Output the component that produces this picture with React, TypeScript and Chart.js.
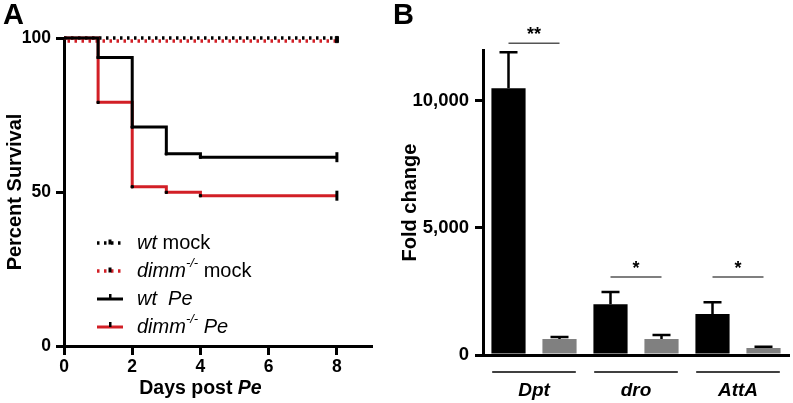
import React, { useEffect, useRef } from 'react';
import { Chart, registerables } from 'chart.js';
Chart.register(...registerables);

const FONT = "'Liberation Sans', Arial, Helvetica, sans-serif";
const RED = '#d21f26';
const GRAY = '#808080';

// ---- Panel A: survival ----
const days = [0, 1, 2, 3, 4, 8];
const wtMock = [100, 100, 100, 100, 100, 100];
const dimmMock = [99, 99, 99, 99, 99, 99];
const wtPe = [100, 93.7, 71.1, 62.4, 61.3, 61.3];
const dimmPe = [100, 79.1, 51.7, 49.9, 48.8, 48.8];
const dayTicks = [0, 2, 4, 6, 8];
const survivalTicks = [0, 50, 100];

// ---- Panel B: fold change ----
const genes = ['Dpt', 'dro', 'AttA'];
const wtFold = [10500, 2000, 1610];
const wtErr = [1410, 480, 470];
const dimmFold = [630, 630, 280];
const dimmErr = [80, 160, 40];
const foldTicks = [0, 5000, 10000];
const sigLevel = [12270, 3070, 3070];
const sigLabel = ['**', '*', '*'];

const lastIdx = days.length - 1;
const toXY = (ys: number[]) => days.map((d, i) => ({ x: d, y: ys[i] }));

const peMarkers = () => ({
  pointStyle: days.map((_, i) => (i === lastIdx ? 'line' : 'rect')),
  pointRadius: days.map((_, i) => (i === 0 ? 0 : i === lastIdx ? 5 : 1.6)),
  pointRotation: days.map((_, i) => (i === lastIdx ? 90 : 0)),
  pointBackgroundColor: '#000',
  pointBorderColor: '#000',
  pointBorderWidth: days.map((_, i) => (i === lastIdx ? 3 : 1)),
});
const mockMarkers = () => ({
  pointStyle: 'rect',
  pointRadius: days.map((_, i) => (i === lastIdx ? 2.2 : 0)),
  pointBackgroundColor: '#000',
  pointBorderColor: '#000',
  pointBorderWidth: 1,
});

type Part = [string, 'italic' | 'normal' | 'sup'];
const legendRows: { color: string; dashed: boolean; parts: Part[] }[] = [
  { color: '#000', dashed: true, parts: [['wt', 'italic'], [' mock', 'normal']] },
  { color: RED, dashed: true, parts: [['dimm', 'italic'], ['-/-', 'sup'], [' mock', 'normal']] },
  { color: '#000', dashed: false, parts: [['wt', 'italic'], ['  ', 'normal'], ['Pe', 'italic']] },
  { color: RED, dashed: false, parts: [['dimm', 'italic'], ['-/-', 'sup'], [' ', 'normal'], ['Pe', 'italic']] },
];

const survivalExtras = {
  id: 'survivalExtras',
  afterDraw(chart: any) {
    const ctx = chart.ctx;
    const ca = chart.chartArea;
    ctx.save();
    // legend
    legendRows.forEach((row, i) => {
      const y = ca.top + 205 + i * 28;
      const x1 = ca.left + 33, x2 = ca.left + 59;
      ctx.strokeStyle = row.color;
      ctx.lineWidth = row.dashed ? 3.5 : 3;
      ctx.setLineDash(row.dashed ? [2.5, 4.5] : []);
      ctx.beginPath(); ctx.moveTo(x1, y); ctx.lineTo(x2, y); ctx.stroke();
      ctx.setLineDash([]);
      ctx.fillStyle = '#000';
      if (row.dashed) ctx.fillRect((x1 + x2) / 2 - 1.5, y - 3.5, 3, 5);
      else ctx.fillRect((x1 + x2) / 2 - 1, y - 5, 2.5, 5);
      let tx = ca.left + 73;
      ctx.textBaseline = 'middle';
      ctx.textAlign = 'left';
      row.parts.forEach(([t, s]) => {
        if (s === 'sup') {
          ctx.font = `italic 13px ${FONT}`;
          ctx.fillText(t, tx, y - 8);
        } else {
          ctx.font = `${s === 'italic' ? 'italic ' : ''}20px ${FONT}`;
          ctx.fillText(t, tx, y);
        }
        tx += ctx.measureText(t).width;
      });
    });
    // x axis title with italic part
    const cx = chart.scales.x.getPixelForValue(4);
    const ty = 389;
    ctx.font = `bold 19.5px ${FONT}`;
    const w1 = ctx.measureText('Days post ').width;
    ctx.font = `italic bold 19.5px ${FONT}`;
    const w2 = ctx.measureText('Pe').width;
    const sx = cx - (w1 + w2) / 2;
    ctx.fillStyle = '#000';
    ctx.textBaseline = 'middle';
    ctx.textAlign = 'left';
    ctx.font = `bold 19.5px ${FONT}`;
    ctx.fillText('Days post ', sx, ty);
    ctx.font = `italic bold 19.5px ${FONT}`;
    ctx.fillText('Pe', sx + w1, ty);
    ctx.restore();
  },
};

const barExtras = {
  id: 'barExtras',
  afterDatasetsDraw(chart: any) {
    const ctx = chart.ctx;
    const ys = chart.scales.y;
    const xs = chart.scales.x;
    const ca = chart.chartArea;
    ctx.save();
    // error bars
    chart.data.datasets.forEach((ds: any, di: number) => {
      const meta = chart.getDatasetMeta(di);
      meta.data.forEach((bar: any, i: number) => {
        const top = ys.getPixelForValue(ds.data[i] + ds.errors[i]);
        ctx.strokeStyle = '#000';
        ctx.lineWidth = 2.5;
        ctx.beginPath();
        ctx.moveTo(bar.x, bar.y);
        ctx.lineTo(bar.x, top);
        ctx.moveTo(bar.x - 9, top);
        ctx.lineTo(bar.x + 9, top);
        ctx.stroke();
      });
    });
    // significance
    const m0 = chart.getDatasetMeta(0), m1 = chart.getDatasetMeta(1);
    sigLevel.forEach((lv, i) => {
      const yy = ys.getPixelForValue(lv);
      const x0 = m0.data[i].x, x1 = m1.data[i].x;
      ctx.strokeStyle = '#555';
      ctx.lineWidth = 1.5;
      ctx.beginPath(); ctx.moveTo(x0, yy); ctx.lineTo(x1, yy); ctx.stroke();
      ctx.fillStyle = '#000';
      ctx.font = `bold 18px ${FONT}`;
      ctx.textAlign = 'center';
      ctx.textBaseline = 'alphabetic';
      ctx.fillText(sigLabel[i], (x0 + x1) / 2, yy - 3);
    });
    // group underlines
    const cw = xs.width / genes.length;
    genes.forEach((_, i) => {
      const cx = xs.getPixelForValue(i);
      ctx.strokeStyle = '#000';
      ctx.lineWidth = 1.3;
      ctx.beginPath();
      ctx.moveTo(cx - 0.41 * cw, ca.bottom + 17);
      ctx.lineTo(cx + 0.41 * cw, ca.bottom + 17);
      ctx.stroke();
    });
    ctx.restore();
  },
};

const axisGrid = { display: true, drawOnChartArea: false, drawTicks: true, tickLength: 8, tickWidth: 3, tickColor: '#000', color: '#000', lineWidth: 3 };
const axisBorder = { display: true, color: '#000', width: 3 };
const tickFontA = { family: FONT, size: 17.5, weight: 'bold' as const };
const tickFontB = { family: FONT, size: 18.5, weight: 'bold' as const };
const titleFont = { family: FONT, size: 20, weight: 'bold' as const };

export default function App() {
  const aRef = useRef<HTMLCanvasElement>(null);
  const bRef = useRef<HTMLCanvasElement>(null);

  useEffect(() => {
    Chart.defaults.color = '#000';
    const a = new Chart(aRef.current!, {
      type: 'line',
      data: {
        datasets: [
          { label: 'wt Pe', data: toXY(wtPe), borderColor: '#000', borderWidth: 3, stepped: 'before', fill: false, order: 0, clip: false, ...peMarkers() } as any,
          { label: 'dimm Pe', data: toXY(dimmPe), borderColor: RED, borderWidth: 3, stepped: 'before', fill: false, order: 1, clip: false, ...peMarkers() } as any,
          { label: 'wt mock', data: toXY(wtMock), borderColor: '#000', borderWidth: 3.5, borderDash: [2.5, 4.5], stepped: 'before', fill: false, order: 2, clip: false, ...mockMarkers() } as any,
          { label: 'dimm mock', data: toXY(dimmMock), borderColor: RED, borderWidth: 3.5, borderDash: [2.5, 4.5], borderDashOffset: 3.5, stepped: 'before', fill: false, order: 3, clip: false, ...mockMarkers() } as any,
        ],
      },
      options: {
        animation: false,
        responsive: false,
        maintainAspectRatio: false,
        layout: { padding: { top: 38, right: 24, left: 0, bottom: 0 } },
        plugins: { legend: { display: false }, tooltip: { enabled: false } },
        scales: {
          x: {
            type: 'linear', min: 0, max: 9,
            afterBuildTicks: (s: any) => { s.ticks = dayTicks.map((v) => ({ value: v })); },
            afterFit: (s: any) => { s.height = 57; },
            border: axisBorder,
            grid: { ...axisGrid, tickLength: 9 },
            ticks: { color: '#000', font: tickFontA, padding: 2, maxRotation: 0 },
          },
          y: {
            type: 'linear', min: 0, max: 100,
            afterBuildTicks: (s: any) => { s.ticks = survivalTicks.map((v) => ({ value: v })); },
            afterFit: (s: any) => { s.width = 64; },
            border: axisBorder,
            grid: axisGrid,
            ticks: { color: '#000', font: tickFontA, padding: 5 },
            title: { display: true, text: 'Percent Survival', color: '#000', font: titleFont, padding: { top: 3, bottom: 0 } },
          },
        },
      } as any,
      plugins: [survivalExtras],
    });

    const b = new Chart(bRef.current!, {
      type: 'bar',
      data: {
        labels: genes,
        datasets: [
          { label: 'wt', data: wtFold, errors: wtErr, backgroundColor: '#000', categoryPercentage: 1, barPercentage: 0.67 } as any,
          { label: 'dimm-/-', data: dimmFold, errors: dimmErr, backgroundColor: GRAY, categoryPercentage: 1, barPercentage: 0.67 } as any,
        ],
      },
      options: {
        animation: false,
        responsive: false,
        maintainAspectRatio: false,
        layout: { padding: { top: 50, right: 4, left: 0, bottom: 0 } },
        plugins: { legend: { display: false }, tooltip: { enabled: false } },
        scales: {
          x: {
            afterFit: (s: any) => { s.height = 48; },
            border: axisBorder,
            grid: { display: false, drawTicks: false },
            ticks: { color: '#000', font: { family: FONT, size: 19, weight: 'bold', style: 'italic' }, padding: 24, maxRotation: 0 },
          },
          y: {
            type: 'linear', min: 0, max: 12000,
            afterBuildTicks: (s: any) => { s.ticks = foldTicks.map((v) => ({ value: v })); },
            afterFit: (s: any) => { s.width = 88; },
            border: axisBorder,
            grid: axisGrid,
            ticks: { color: '#000', font: tickFontB, padding: 6, callback: (v: any) => Number(v).toLocaleString('en-US') },
            title: { display: true, text: 'Fold change', color: '#000', font: titleFont, padding: { top: 3, bottom: 0 } },
          },
        },
      } as any,
      plugins: [barExtras],
    });

    return () => { a.destroy(); b.destroy(); };
  }, []);

  const letter: React.CSSProperties = { position: 'absolute', top: 0, font: `bold 29px ${FONT}`, lineHeight: 1, color: '#000' };
  return (
    <div style={{ position: 'fixed', left: 0, top: 0, width: 793, height: 403, background: '#fff', overflow: 'hidden' }}>
      <canvas ref={aRef} width={395} height={403} style={{ position: 'absolute', left: 0, top: 0 }} />
      <canvas ref={bRef} width={398} height={403} style={{ position: 'absolute', left: 395, top: 0 }} />
      <div style={{ ...letter, left: 3 }}>A</div>
      <div style={{ ...letter, left: 393 }}>B</div>
    </div>
  );
}
